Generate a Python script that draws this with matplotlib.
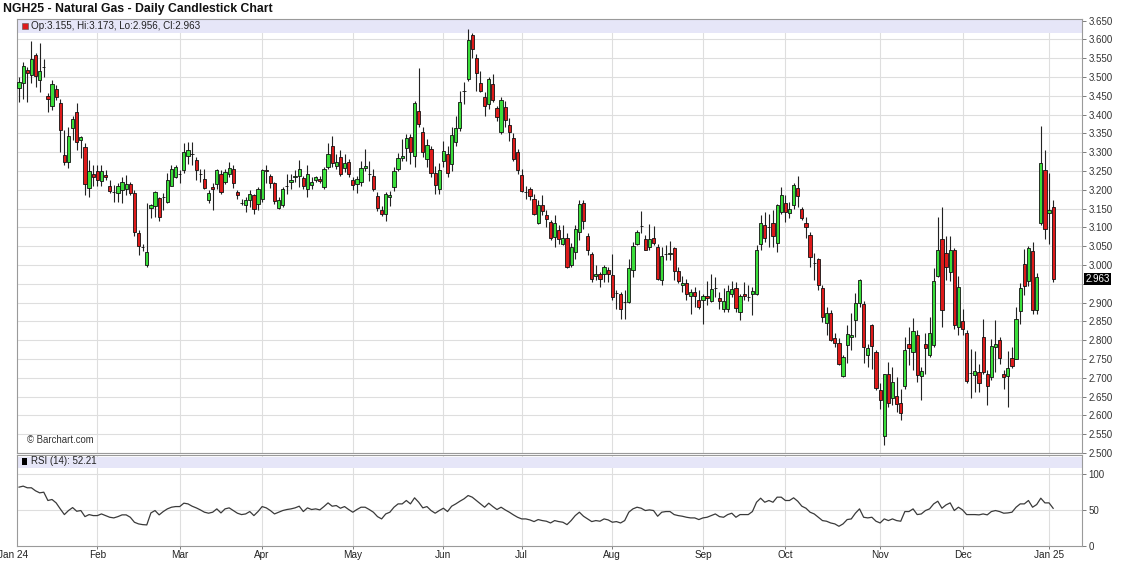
import matplotlib
matplotlib.use("Agg")
import matplotlib.pyplot as plt
from matplotlib.patches import Rectangle
from matplotlib.transforms import blended_transform_factory
import numpy as np

plt.rcParams['font.family'] = ['Liberation Sans', 'DejaVu Sans']

# ---------------- data ----------------
opens = [
3.470,3.483,3.520,3.505,3.560,3.492,3.527,3.450,3.423,3.467,
3.432,3.292,3.273,3.364,3.407,3.333,3.315,3.204,3.242,3.251,
3.224,3.240,3.211,3.193,3.191,3.200,3.203,3.216,3.192,3.085,
3.047,3.001,3.151,3.156,3.178,3.182,3.169,3.211,3.235,3.243,
3.252,3.289,3.295,3.279,3.241,3.230,3.172,3.208,3.215,3.243,
3.221,3.243,3.256,3.193,3.166,3.159,3.172,3.185,3.162,3.177,
3.254,3.238,3.218,3.153,3.159,3.209,3.221,3.233,3.236,3.232,
3.201,3.212,3.225,3.230,3.208,3.261,3.316,3.263,3.287,3.259,
3.274,3.227,3.215,3.220,3.258,3.242,3.237,3.184,3.146,3.135,
3.180,3.208,3.255,3.284,3.311,3.341,3.291,3.410,3.355,3.282,
3.308,3.246,3.202,3.277,3.295,3.268,3.326,3.364,3.462,3.495,
3.612,3.550,3.483,3.448,3.428,3.481,3.417,3.355,3.421,3.373,
3.339,3.300,3.240,3.193,3.201,3.177,3.113,3.161,3.134,3.115,
3.075,3.093,3.057,3.073,2.999,3.035,3.088,3.166,3.078,3.029,
2.970,2.977,2.977,2.986,2.973,2.926,2.922,2.902,2.902,2.988,
3.057,3.103,3.070,3.048,3.073,3.048,2.961,3.029,3.029,3.044,
2.984,2.948,2.951,2.917,2.929,2.906,2.907,2.917,2.905,2.940,
2.913,2.884,2.884,2.923,2.938,2.876,2.923,2.915,2.923,2.924,
3.055,3.106,3.102,3.112,3.059,3.141,3.164,3.139,3.159,3.206,
3.148,3.113,3.081,3.006,3.015,2.938,2.845,2.873,2.805,2.793,
2.704,2.787,2.809,2.855,2.898,2.897,2.760,2.841,2.769,2.667,
2.545,2.709,2.645,2.651,2.633,2.677,2.789,2.769,2.813,2.705,
2.791,2.762,2.787,2.971,3.070,3.032,2.982,3.039,2.835,2.850,
2.820,2.713,2.707,2.716,2.809,2.711,2.701,2.782,2.800,2.711,
2.704,2.754,2.751,2.878,3.002,2.958,3.037,2.880,3.112,3.252,
3.138,3.155]

highs = [
3.501,3.541,3.527,3.596,3.565,3.591,3.547,3.457,3.492,3.479,
3.443,3.360,3.368,3.397,3.432,3.344,3.324,3.280,3.266,3.266,
3.266,3.253,3.227,3.213,3.218,3.235,3.240,3.222,3.199,3.094,
3.055,3.165,3.163,3.198,3.182,3.191,3.244,3.266,3.266,3.253,
3.324,3.327,3.327,3.287,3.256,3.256,3.199,3.217,3.256,3.252,
3.256,3.274,3.265,3.199,3.177,3.181,3.199,3.190,3.207,3.256,
3.265,3.243,3.221,3.181,3.207,3.243,3.243,3.252,3.279,3.238,
3.265,3.234,3.238,3.238,3.261,3.325,3.342,3.296,3.307,3.296,
3.283,3.234,3.238,3.277,3.308,3.277,3.255,3.193,3.158,3.193,
3.198,3.260,3.299,3.335,3.348,3.348,3.437,3.523,3.366,3.335,
3.317,3.264,3.272,3.330,3.317,3.366,3.397,3.462,3.486,3.627,
3.616,3.561,3.517,3.459,3.499,3.509,3.424,3.448,3.437,3.392,
3.352,3.309,3.256,3.210,3.208,3.189,3.172,3.186,3.146,3.119,
3.132,3.106,3.106,3.084,3.059,3.106,3.172,3.172,3.084,3.035,
2.999,2.981,2.999,2.995,3.030,2.933,2.928,2.933,3.017,3.061,
3.093,3.145,3.079,3.110,3.104,3.057,3.048,3.053,3.063,3.048,
2.995,2.972,2.964,2.937,2.942,2.933,2.923,2.958,2.976,2.967,
2.929,2.938,2.946,2.958,2.956,2.924,2.956,2.947,2.942,3.052,
3.132,3.141,3.137,3.146,3.163,3.208,3.186,3.168,3.217,3.236,
3.155,3.128,3.088,3.031,3.018,2.947,2.889,2.880,2.818,2.805,
2.760,2.840,2.872,2.925,2.964,2.905,2.791,2.844,2.773,2.685,
2.711,2.742,2.729,2.702,2.671,2.809,2.835,2.858,2.827,2.729,
2.818,2.862,2.991,3.129,3.154,3.078,3.078,3.044,2.971,2.884,
2.826,2.776,2.771,2.738,2.857,2.720,2.804,2.855,2.809,2.720,
2.771,2.782,2.889,2.951,3.043,3.050,3.061,2.978,3.369,3.305,
3.245,3.173]

lows = [
3.434,3.443,3.434,3.483,3.474,3.461,3.501,3.408,3.412,3.439,
3.302,3.266,3.258,3.333,3.306,3.284,3.187,3.182,3.209,3.209,
3.209,3.227,3.191,3.169,3.169,3.165,3.186,3.186,3.076,3.027,
3.038,2.996,3.125,3.129,3.116,3.147,3.165,3.209,3.231,3.218,
3.244,3.270,3.265,3.225,3.221,3.203,3.166,3.147,3.203,3.190,
3.215,3.235,3.205,3.177,3.159,3.141,3.155,3.137,3.146,3.168,
3.217,3.205,3.163,3.150,3.155,3.190,3.203,3.221,3.208,3.203,
3.180,3.203,3.221,3.217,3.203,3.256,3.261,3.256,3.236,3.248,
3.234,3.199,3.192,3.211,3.251,3.224,3.198,3.144,3.130,3.117,
3.158,3.198,3.251,3.277,3.277,3.268,3.260,3.366,3.287,3.260,
3.233,3.189,3.189,3.260,3.233,3.251,3.317,3.357,3.428,3.490,
3.552,3.464,3.459,3.397,3.415,3.433,3.384,3.348,3.366,3.330,
3.277,3.241,3.195,3.176,3.172,3.132,3.109,3.133,3.101,3.066,
3.048,3.057,3.053,2.991,2.995,3.017,3.066,3.097,3.026,2.955,
2.959,2.942,2.955,2.955,2.906,2.884,2.857,2.857,2.899,2.968,
3.052,3.084,3.039,3.039,3.053,2.959,2.947,3.013,3.013,2.959,
2.951,2.929,2.906,2.871,2.889,2.884,2.843,2.895,2.902,2.915,
2.882,2.876,2.876,2.916,2.876,2.854,2.907,2.905,2.867,2.920,
3.041,3.062,3.049,3.049,3.036,3.137,3.115,3.124,3.150,3.154,
3.120,3.071,2.996,2.959,2.933,2.849,2.814,2.798,2.783,2.734,
2.702,2.739,2.773,2.809,2.889,2.739,2.729,2.724,2.667,2.618,
2.521,2.622,2.627,2.609,2.587,2.671,2.735,2.720,2.689,2.642,
2.711,2.756,2.783,2.968,2.835,2.959,2.958,2.831,2.813,2.813,
2.685,2.645,2.662,2.662,2.711,2.629,2.694,2.716,2.736,2.671,
2.622,2.725,2.749,2.844,2.919,2.944,2.869,2.869,3.106,3.070,
3.057,2.956]

closes = [
3.488,3.529,3.510,3.548,3.503,3.517,3.527,3.442,3.481,3.448,
3.359,3.275,3.342,3.389,3.326,3.341,3.216,3.251,3.235,3.225,
3.249,3.234,3.198,3.193,3.211,3.222,3.216,3.191,3.089,3.051,
3.047,3.036,3.160,3.194,3.129,3.182,3.225,3.255,3.260,3.243,
3.301,3.305,3.295,3.252,3.241,3.206,3.192,3.202,3.254,3.194,
3.247,3.259,3.218,3.185,3.166,3.172,3.190,3.148,3.201,3.252,
3.249,3.217,3.170,3.174,3.201,3.209,3.227,3.238,3.256,3.209,
3.243,3.221,3.234,3.223,3.256,3.296,3.272,3.274,3.241,3.272,
3.243,3.212,3.229,3.258,3.264,3.242,3.202,3.151,3.137,3.189,
3.187,3.251,3.286,3.291,3.339,3.302,3.432,3.375,3.300,3.320,
3.246,3.213,3.252,3.304,3.246,3.346,3.364,3.434,3.462,3.598,
3.574,3.512,3.464,3.424,3.496,3.439,3.393,3.439,3.385,3.355,
3.282,3.252,3.198,3.193,3.184,3.137,3.161,3.144,3.122,3.073,
3.112,3.070,3.073,2.995,3.048,3.097,3.163,3.116,3.041,2.964,
2.977,2.964,2.995,2.977,2.915,2.926,2.884,2.902,2.991,3.050,
3.088,3.103,3.041,3.068,3.059,2.964,3.023,3.029,3.032,2.984,
2.958,2.952,2.922,2.929,2.917,2.889,2.917,2.911,2.935,2.940,
2.905,2.904,2.931,2.936,2.887,2.917,2.917,2.915,2.931,3.041,
3.112,3.071,3.102,3.077,3.159,3.186,3.141,3.148,3.212,3.183,
3.124,3.102,3.022,3.006,2.946,2.862,2.873,2.800,2.793,2.738,
2.756,2.816,2.814,2.898,2.960,2.782,2.780,2.784,2.674,2.640,
2.709,2.633,2.689,2.630,2.607,2.775,2.780,2.825,2.707,2.717,
2.778,2.819,2.958,3.039,2.880,2.995,3.041,2.840,2.942,2.831,
2.692,2.713,2.718,2.686,2.716,2.678,2.784,2.791,2.754,2.701,
2.727,2.731,2.857,2.940,2.944,3.044,2.881,2.967,3.272,3.097,
3.146,2.963]

rsi = [
81.5,82.9,80.6,80.6,76.4,73.6,74.5,63.0,64.4,59.7,
51.4,43.5,49.1,53.2,48.1,49.1,40.7,43.5,42.1,42.1,
44.4,42.1,39.8,38.9,40.7,43.1,43.1,39.8,32.9,30.6,
29.6,29.2,45.8,49.1,43.1,47.7,51.4,53.7,54.6,54.6,
59.3,58.3,55.1,52.8,50.0,46.8,45.4,46.8,51.4,45.8,
51.4,52.8,49.1,45.4,43.5,44.4,47.7,42.1,47.7,54.6,
52.8,49.1,44.4,46.8,49.1,50.5,51.4,52.8,55.1,47.7,
52.8,50.5,51.4,50.0,54.6,59.7,55.1,56.0,52.3,54.6,
50.5,46.8,50.5,53.7,53.7,50.5,46.8,40.7,37.5,44.4,
46.8,53.7,58.3,58.3,63.0,58.3,66.7,60.6,52.8,54.6,
49.1,45.4,49.1,52.3,47.7,55.1,58.3,62.0,65.3,69.9,
67.6,63.0,58.3,53.7,59.3,54.6,50.5,53.7,50.0,46.8,
43.1,39.8,37.5,37.5,36.1,33.8,36.6,35.2,34.3,31.9,
35.2,33.8,32.9,29.6,35.2,42.1,46.8,41.2,37.5,33.8,
35.2,34.3,37.5,36.1,32.9,33.8,31.9,35.2,46.8,51.4,
53.7,52.3,49.1,50.0,49.1,41.2,46.8,47.7,47.7,43.5,
42.1,41.2,39.8,38.9,38.9,36.6,38.9,39.8,42.1,44.4,
40.7,39.8,43.5,45.4,39.8,43.5,43.5,43.5,47.7,60.6,
66.2,60.6,63.0,60.6,67.6,67.6,63.0,63.0,66.7,62.0,
55.1,52.3,46.8,44.4,39.8,35.2,34.3,31.9,30.6,27.3,
30.6,36.6,37.5,45.4,51.4,39.8,38.9,39.8,34.3,31.9,
37.5,35.2,37.5,35.2,34.3,47.7,47.7,51.4,43.5,44.4,
49.1,51.4,58.3,62.0,52.3,56.9,59.7,49.1,53.7,50.0,
43.5,43.5,43.5,43.1,44.4,43.1,47.7,49.1,47.7,45.4,
45.8,46.8,53.7,58.3,58.3,63.0,53.7,57.4,66.2,59.7,
59.7,52.21]

month_pos = [-1.4, 19, 39, 59, 81, 103, 122, 144, 166, 186, 209, 229, 250]
month_labels = ["Jan 24", "Feb", "Mar", "Apr", "May", "Jun", "Jul", "Aug",
                "Sep", "Oct", "Nov", "Dec", "Jan 25"]
price_ticks = [2.500, 2.550, 2.600, 2.650, 2.700, 2.750, 2.800, 2.850, 2.900,
               2.950, 3.000, 3.050, 3.100, 3.150, 3.200, 3.250, 3.300, 3.350,
               3.400, 3.450, 3.500, 3.550, 3.600, 3.650]
rsi_ticks = [0, 50, 100]

title = "NGH25 - Natural Gas - Daily Candlestick Chart"
header = "Op:3.155, Hi:3.173, Lo:2.956, Cl:2.963"
rsi_header = "RSI (14): 52.21"
last_price = 2.963

# ---------------- drawing ----------------
W, H = 1125, 567
fig = plt.figure(figsize=(W / 100, H / 100), dpi=100)
fig.patch.set_facecolor('white')

def px_axes(x0, y0, x1, y1):
    return fig.add_axes([x0 / W, 1 - y1 / H, (x1 - x0) / W, (y1 - y0) / H])

ax = px_axes(17, 19, 1082, 453)
ax2 = px_axes(17, 455, 1082, 546)

GRID = '#dedede'
SPINE = '#9a9a9a'
GREEN = '#3ade3a'
RED = '#dd1a1a'
BAND = '#e6e6f8'

o = np.array(opens); h = np.array(highs); l = np.array(lows); c = np.array(closes)
x = np.arange(len(o))
up = c >= o

XMIN, XMAX = -0.5, 258

# grid
for p in price_ticks:
    ax.axhline(p, color=GRID, lw=0.8, zorder=0)
for m in month_pos[1:]:
    ax.axvline(m, color=GRID, lw=0.8, zorder=0)
    ax2.axvline(m, color=GRID, lw=0.8, zorder=0)
for r in [50, 100]:
    ax2.axhline(r, color=GRID, lw=0.8, zorder=0)

# header bands inside the panels
ax.add_patch(Rectangle((0, 1 - 14 / 434), 1, 14 / 434, transform=ax.transAxes,
                       facecolor=BAND, edgecolor='none', zorder=0.5))
ax2.add_patch(Rectangle((0, 1 - 13 / 91), 1, 11 / 91, transform=ax2.transAxes,
                        facecolor=BAND, edgecolor='none', zorder=0.5))

# candles: wicks then bodies
ax.vlines(x, l, h, color='#222222', lw=0.8, zorder=2)
body_bottom = np.minimum(o, c)
body_h = np.abs(c - o)
colors = np.where(up, GREEN, RED)
ax.bar(x, body_h, bottom=body_bottom, width=0.78, color=colors,
       edgecolor='#111111', linewidth=0.6, zorder=3)

ax.set_xlim(XMIN, XMAX)
ax.set_ylim(2.5, 3.6545)
ax2.set_xlim(XMIN, XMAX)
ax2.set_ylim(0, 126)

# RSI line
ax2.plot(x, rsi, color='#3a3a3a', lw=0.9, zorder=3)

# axes styling
for a in (ax, ax2):
    for s in a.spines.values():
        s.set_color(SPINE)
        s.set_linewidth(0.8)
    a.yaxis.tick_right()
    a.tick_params(axis='y', length=3, width=0.6, color='#666666',
                  labelsize=7, labelcolor='#333333', pad=1.5)
ax.set_yticks(price_ticks)
ax.set_yticklabels(['' if abs(p - 2.95) < 1e-6 else f"{p:.3f}" for p in price_ticks])
ax.set_xticks([])
ax2.set_yticks(rsi_ticks)
ax2.set_yticklabels([str(t) for t in rsi_ticks])
ax2.set_xticks(month_pos[1:])
ax2.set_xticklabels(month_labels[1:])
ax2.tick_params(axis='x', length=2, width=0.6, color='#666666', labelsize=7.2,
                labelcolor='#222222', pad=0.8)
# first month label sits at the very left edge (partly cut off)
ax2.text(month_pos[0], -3.9 / 91, month_labels[0], transform=blended_transform_factory(
    ax2.transData, ax2.transAxes), fontsize=7.2, color='#222222',
    ha='center', va='top', clip_on=False)

# last price box
ax.text(1.003, last_price, f"{last_price:.3f}",
        transform=blended_transform_factory(ax.transAxes, ax.transData),
        va='center', ha='left', color='white', fontsize=7,
        bbox=dict(boxstyle='square,pad=0.12', fc='black', ec='none'),
        clip_on=False, zorder=10)

# texts
fig.text(3 / W, 1 - 9 / H, title, fontsize=8.8, fontweight='bold',
         color='#111111', va='center', ha='left')
fig.patches.append(Rectangle((22 / W, 1 - 29 / H), 6 / W, 6 / H,
                             transform=fig.transFigure, facecolor=RED,
                             edgecolor='#555555', lw=0.4, figure=fig))
fig.text(31 / W, 1 - 26 / H, header, fontsize=7.1, color='#222222',
         va='center', ha='left')
fig.text(27 / W, 1 - 440 / H, "\u00a9 Barchart.com", fontsize=6.9,
         color='#333333', va='center', ha='left')
fig.patches.append(Rectangle((22 / W, 1 - 465 / H), 5 / W, 7 / H,
                             transform=fig.transFigure, facecolor='black',
                             edgecolor='none', figure=fig))
fig.text(31 / W, 1 - 461.5 / H, rsi_header, fontsize=7.0, color='#222222',
         va='center', ha='left')

fig.savefig('out.png', dpi=100, facecolor='white')
